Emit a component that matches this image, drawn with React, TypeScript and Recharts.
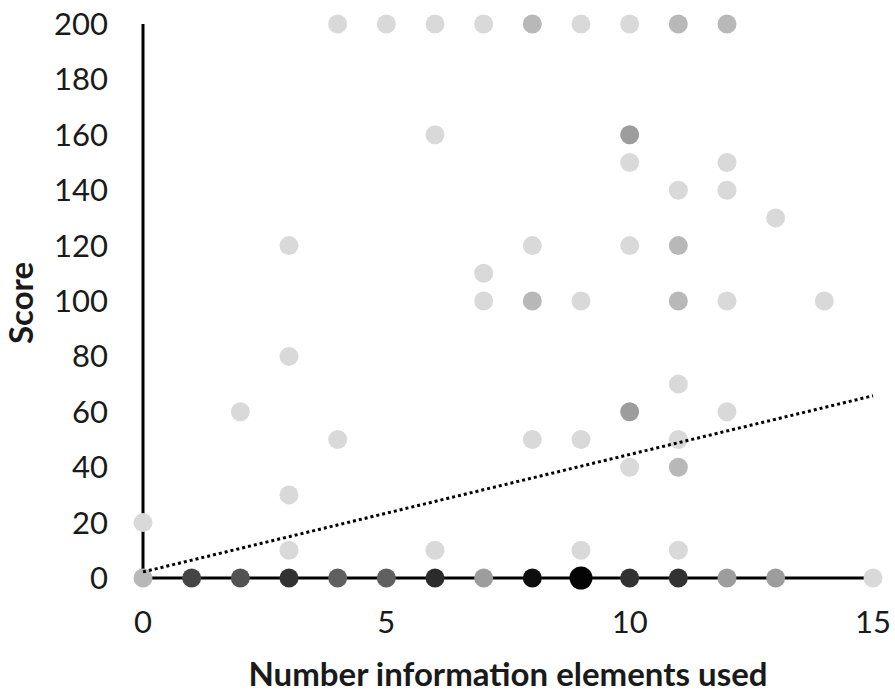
import React from 'react';
import { ScatterChart, Scatter, XAxis, YAxis, ReferenceLine, Label } from 'recharts';

// one entry per marker position; pointCount = how many answers sit on it
const pointX = [
  4, 5, 6, 7, 8, 9, 10, 11, 12,
  6, 10,
  10, 12,
  11, 12,
  13,
  3, 8, 10, 11,
  7,
  7, 8, 9, 11, 12, 14,
  3,
  11,
  2, 10, 12,
  4, 8, 9, 11,
  10, 11,
  3,
  0,
  3, 6, 9, 11,
  0, 1, 2, 3, 4, 5, 6, 7, 8, 9, 10, 11, 12, 13, 15,
];
const pointY = [
  200, 200, 200, 200, 200, 200, 200, 200, 200,
  160, 160,
  150, 150,
  140, 140,
  130,
  120, 120, 120, 120,
  110,
  100, 100, 100, 100, 100, 100,
  80,
  70,
  60, 60, 60,
  50, 50, 50, 50,
  40, 40,
  30,
  20,
  10, 10, 10, 10,
  0, 0, 0, 0, 0, 0, 0, 0, 0, 0, 0, 0, 0, 0, 0,
];
const pointCount = [
  1, 1, 1, 1, 2, 1, 1, 2, 2,
  1, 3,
  1, 1,
  1, 1,
  1,
  1, 1, 1, 2,
  1,
  1, 2, 1, 2, 1, 1,
  1,
  1,
  1, 3, 1,
  1, 1, 1, 1,
  1, 2,
  1,
  1,
  1, 1, 1, 1,
  2, 8, 7, 10, 6, 6, 11, 3, 18, 25, 10, 10, 3, 3, 1,
];

const xTicks = [0, 5, 10, 15];
const yTicks = [0, 20, 40, 60, 80, 100, 120, 140, 160, 180, 200];

// linear trend line end points
const trendX = [0, 15];
const trendY = [2.2, 65.8];

const points = pointX.map((x, i) => ({ x, y: pointY[i], n: pointCount[i] }));
const trend = trendX.map((x, i) => ({ x, y: trendY[i] }));

const FONT = "Lato, 'Open Sans', sans-serif";
const INK = '#1a1a1a';

// stacked 15% black markers
const shade = (n: number) => {
  const v = Math.round(255 * Math.pow(0.85, n));
  return `rgb(${v},${v},${v})`;
};

const Dot = (props: any) => {
  const { cx, cy, payload } = props;
  if (cx == null || cy == null) return null;
  return <circle cx={cx} cy={cy} r={payload.n >= 20 ? 11.5 : 9.5} fill={shade(payload.n)} />;
};

const ScoreTitle = (props: any) => {
  const { viewBox } = props;
  const cy = viewBox.y + viewBox.height / 2 + 2;
  const x = 33;
  return (
    <text
      x={x}
      y={cy}
      transform={`rotate(-90, ${x}, ${cy})`}
      textAnchor="middle"
      fontFamily={FONT}
      fontWeight={700}
      fontSize={33}
      fill={INK}
    >
      Score
    </text>
  );
};

export default function App() {
  return (
    <div style={{ position: 'absolute', left: 0, top: 0, width: 895, height: 692, background: '#fff' }}>
      <ScatterChart width={895} height={692} margin={{ top: 24, right: 22, left: 0, bottom: 0 }}>
        <XAxis
          type="number"
          dataKey="x"
          domain={[0, 15]}
          ticks={xTicks}
          interval={0}
          height={114}
          axisLine={false}
          tickLine={false}
          tickSize={0}
          tickMargin={33}
          tick={{ fill: INK, fontSize: 31, fontFamily: FONT }}
        >
          <Label
            value="Number information elements used"
            position="insideBottom"
            offset={6}
            style={{ fill: INK, fontSize: 33, fontWeight: 700, fontFamily: FONT }}
          />
        </XAxis>
        <YAxis
          type="number"
          dataKey="y"
          domain={[0, 200]}
          ticks={yTicks}
          interval={0}
          width={143}
          axisLine={false}
          tickLine={false}
          tickSize={0}
          tickMargin={35}
          tick={{ fill: INK, fontSize: 31, fontFamily: FONT }}
          label={{ content: <ScoreTitle /> }}
        />
        <Scatter data={points} shape={<Dot />} isAnimationActive={false} />
        <Scatter
          data={trend}
          line={{ stroke: '#000', strokeWidth: 3, strokeDasharray: '3 3' }}
          shape={() => <g />}
          isAnimationActive={false}
        />
        <ReferenceLine y={0} stroke="#000" strokeWidth={3} />
        <ReferenceLine x={0} stroke="#000" strokeWidth={3} />
      </ScatterChart>
    </div>
  );
}
